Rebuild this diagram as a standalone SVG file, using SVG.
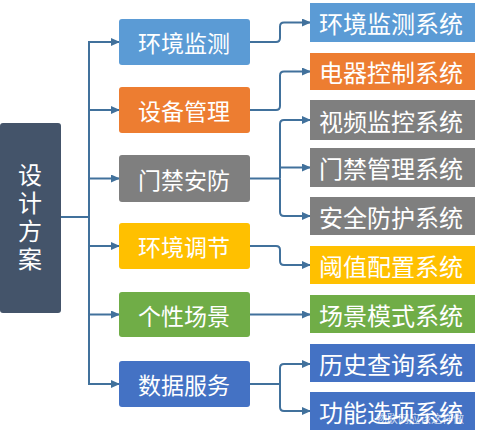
<svg xmlns="http://www.w3.org/2000/svg" width="479" height="441" viewBox="0 0 479 441">
<defs>
<style>
.t{font-family:"Noto Sans CJK SC","Noto Sans",sans-serif;fill:#fff;text-anchor:middle;dominant-baseline:central}
.m{font-size:23px}
.r{font-size:24px}
.c{fill:none;stroke:#41719C;stroke-width:2}
</style>
<marker id="a" markerUnits="userSpaceOnUse" markerWidth="9" markerHeight="8" refX="8" refY="4" orient="auto">
<path d="M0,0 L9,4 L0,8 Z" fill="#41719C"/>
</marker>
</defs>
<rect width="479" height="441" fill="#fff"/>
<g id="connectors">
<path class="c" d="M61,217 H89 M89,42 V384"/>
<path class="c" d="M88,42 H119" marker-end="url(#a)"/>
<path class="c" d="M88,110 H119" marker-end="url(#a)"/>
<path class="c" d="M88,178.5 H119" marker-end="url(#a)"/>
<path class="c" d="M88,246 H119" marker-end="url(#a)"/>
<path class="c" d="M88,314.5 H119" marker-end="url(#a)"/>
<path class="c" d="M88,384 H119" marker-end="url(#a)"/>
<path class="c" d="M250,42 H276 Q280,42 280,38 V26.5 Q280,22.5 284,22.5 H310" marker-end="url(#a)"/>
<path class="c" d="M250,110 H276 Q280,110 280,106 V75.5 Q280,71.5 284,71.5 H310" marker-end="url(#a)"/>
<path class="c" d="M250,178.5 H280"/>
<path class="c" d="M280,178.5 V124 Q280,120 284,120 H310" marker-end="url(#a)"/>
<path class="c" d="M280,167.5 H310" marker-end="url(#a)"/>
<path class="c" d="M280,178.5 V212 Q280,216 284,216 H310" marker-end="url(#a)"/>
<path class="c" d="M250,246 H276 Q280,246 280,250 V261 Q280,265 284,265 H310" marker-end="url(#a)"/>
<path class="c" d="M250,314.5 H310" marker-end="url(#a)"/>
<path class="c" d="M250,384 H280"/>
<path class="c" d="M280,384 V368 Q280,364 284,364 H310" marker-end="url(#a)"/>
<path class="c" d="M280,384 V407 Q280,411 284,411 H310" marker-end="url(#a)"/>
</g>
<g id="root">
<rect x="0" y="123" width="61" height="190" rx="3" fill="#44546A"/>
<text x="30" y="163" font-family="Noto Sans CJK SC,sans-serif" font-size="24" fill="#fff" style="writing-mode:vertical-rl" letter-spacing="4">设计方案</text>
</g>
<g id="m1"><rect x="119" y="19" width="131" height="46" rx="3" fill="#5B9BD5"/><text class="t m" x="184" y="42">环境监测</text></g>
<g id="m2"><rect x="119" y="87" width="131" height="46" rx="3" fill="#ED7D31"/><text class="t m" x="184" y="110">设备管理</text></g>
<g id="m3"><rect x="119" y="155" width="131" height="47" rx="3" fill="#7F7F7F"/><text class="t m" x="184" y="178.5">门禁安防</text></g>
<g id="m4"><rect x="119" y="223" width="131" height="46" rx="3" fill="#FFC000"/><text class="t m" x="184" y="246">环境调节</text></g>
<g id="m5"><rect x="119" y="292" width="131" height="45" rx="3" fill="#70AD47"/><text class="t m" x="184" y="314.5">个性场景</text></g>
<g id="m6"><rect x="119" y="361" width="131" height="46" rx="3" fill="#4472C4"/><text class="t m" x="184" y="384">数据服务</text></g>
<g id="r1"><rect x="310" y="3" width="165" height="39" fill="#5B9BD5"/><text class="t r" x="391" y="22.5">环境监测系统</text></g>
<g id="r2"><rect x="310" y="53" width="165" height="37" fill="#ED7D31"/><text class="t r" x="391" y="71.5">电器控制系统</text></g>
<g id="r3"><rect x="310" y="100" width="165" height="40" fill="#7F7F7F"/><text class="t r" x="391" y="120">视频监控系统</text></g>
<g id="r4"><rect x="310" y="148" width="165" height="39" fill="#7F7F7F"/><text class="t r" x="391" y="167.5">门禁管理系统</text></g>
<g id="r5"><rect x="310" y="197" width="165" height="38" fill="#7F7F7F"/><text class="t r" x="391" y="216">安全防护系统</text></g>
<g id="r6"><rect x="310" y="246" width="165" height="38" fill="#FFC000"/><text class="t r" x="391" y="265">阈值配置系统</text></g>
<g id="r7"><rect x="310" y="295" width="165" height="38" fill="#70AD47"/><text class="t r" x="391" y="314">场景模式系统</text></g>
<g id="r8"><rect x="310" y="344" width="165" height="38" fill="#4472C4"/><text class="t r" x="391" y="363">历史查询系统</text></g>
<g id="r9"><rect x="310" y="392" width="165" height="38" fill="#4472C4"/><text class="t r" x="391" y="411">功能选项系统</text></g>
<text x="376" y="418" font-family="Noto Sans CJK SC,sans-serif" font-size="11" fill="#fff" fill-opacity="0.75" dominant-baseline="central">物联网应该这样做</text>
</svg>
